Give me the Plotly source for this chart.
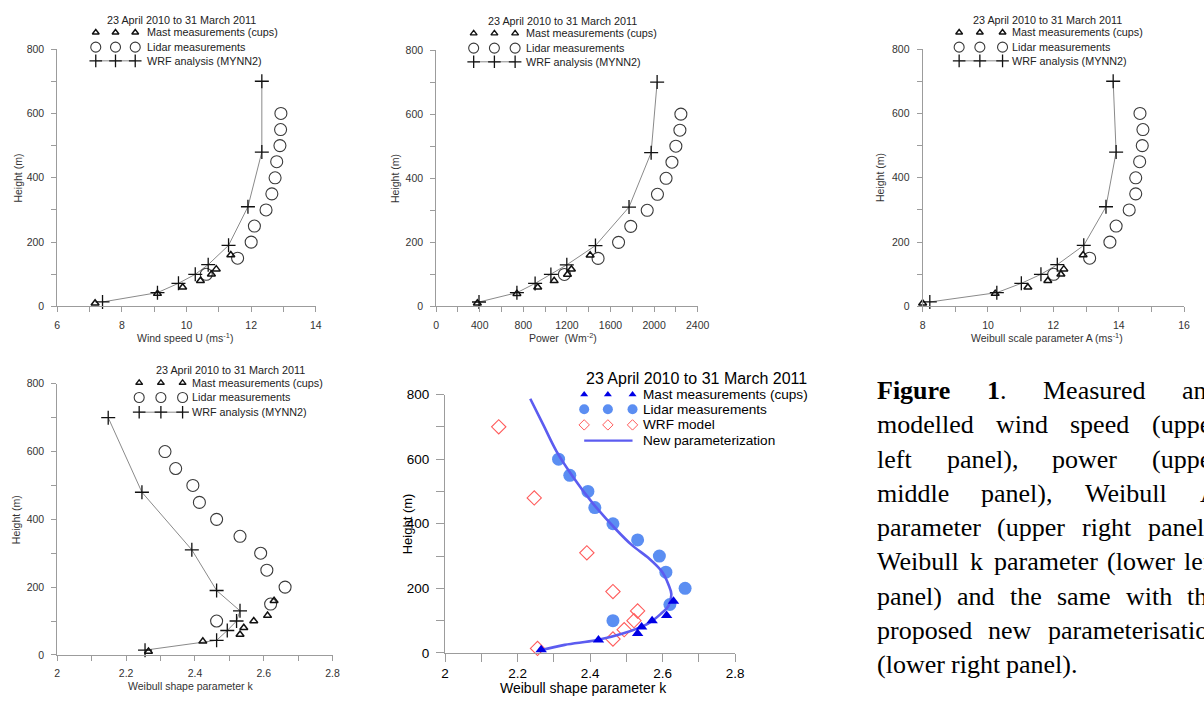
import re
import plotly.graph_objects as go

W, H = 1204, 704

# ---------------- data ----------------
h_mast = [10, 40, 60, 80, 100, 116, 160]
h_lidar = [100, 150, 200, 250, 300, 350, 400, 450, 500, 550, 600]
h_wrf = [14, 43, 72, 100, 130, 190, 310, 480, 700]

u_mast = [7.17, 9.10, 9.88, 10.43, 10.77, 10.92, 11.37]
u_lidar = [10.61, 11.58, 12.00, 12.10, 12.46, 12.64, 12.74, 12.79, 12.89, 12.91, 12.92]
u_wrf = [7.40, 9.10, 9.75, 10.27, 10.67, 11.30, 11.90, 12.33, 12.33]

p_mast = [378, 741, 932, 1083, 1205, 1241, 1413]
p_lidar = [1177, 1486, 1674, 1786, 1937, 2031, 2110, 2164, 2200, 2237, 2246]
p_wrf = [393, 741, 908, 1053, 1199, 1462, 1770, 1973, 2028]

a_mast = [8.00, 10.22, 11.22, 11.83, 12.23, 12.32, 12.91]
a_lidar = [12.01, 13.11, 13.73, 13.92, 14.32, 14.52, 14.52, 14.64, 14.72, 14.74, 14.65]
a_wrf = [8.22, 10.27, 11.02, 11.62, 12.12, 12.93, 13.61, 13.92, 13.83]

k_mast = [2.265, 2.423, 2.531, 2.542, 2.571, 2.611, 2.630]
k_lidar = [2.463, 2.620, 2.662, 2.609, 2.591, 2.531, 2.463, 2.413, 2.394, 2.344, 2.313]
k_wrf = [2.255, 2.463, 2.494, 2.521, 2.531, 2.463, 2.391, 2.246, 2.148]

k_new = [2.262, 2.330, 2.416, 2.490, 2.560, 2.595, 2.616, 2.624, 2.616, 2.598,
         2.562, 2.516, 2.471, 2.407, 2.353, 2.307, 2.271, 2.235]
h_new = [8, 25, 39, 60, 91, 121, 146, 182, 212, 252,
         293, 333, 383, 464, 545, 625, 706, 787]

title_txt = "23 April 2010 to 31 March 2011"
leg_labels = ["Mast measurements (cups)", "Lidar measurements", "WRF analysis (MYNN2)"]
leg5_labels = ["Mast measurements (cups)", "Lidar measurements", "WRF model", "New parameterization"]

caption_lines = [
    "<b>Figure</b> <b>1</b>. Measured and",
    "modelled wind speed (upper",
    "left panel), power (upper",
    "middle panel), Weibull A",
    "parameter (upper right panel),",
    "Weibull k parameter (lower left",
    "panel) and the same with the",
    "proposed new parameterisation",
    "(lower right panel).",
]

# ---------------- helpers ----------------
SANS = "Liberation Sans, Arial, sans-serif"
SERIF = "Liberation Serif, Times New Roman, serif"


def dx(a, b):
    return [a / W, b / W]


def dy(top, bottom):
    return [1 - bottom / H, 1 - top / H]


def px(x):
    return x / W


def py(y):
    return 1 - y / H


# Times / Liberation Serif advance widths (1/1000 em), used to justify the caption
TW = dict(zip("abcdefghijklmnopqrstuvwxyz",
              [444, 500, 444, 500, 444, 333, 500, 500, 278, 278, 500, 278, 778,
               500, 500, 500, 500, 333, 389, 278, 500, 500, 722, 500, 500, 444]))
TW.update({"A": 722, "W": 944, "M": 889, "F": 556, "(": 333, ")": 333, ",": 250,
           ".": 250, " ": 250, "1": 500})
TWB = dict(TW)
TWB.update({"F": 611, "i": 278, "g": 500, "u": 556, "r": 444, "e": 444, "1": 500})


def word_width(word, size):
    total, bold = 0, False
    for part in re.split(r"(</?b>)", word):
        if part == "<b>":
            bold = True
        elif part == "</b>":
            bold = False
        else:
            tab = TWB if bold else TW
            total += sum(tab.get(c, 500) for c in part)
    return total * size / 1000.0


fig = go.Figure()
annotations = []

AX_COL = "#9c9c9c"


def axis_style(rng, dtick, minor, dom, size=10.5, col="#333", standoff=5, ticklen=5):
    return dict(
        domain=dom, range=rng, dtick=dtick, tick0=rng[0], showline=True, linecolor=AX_COL,
        linewidth=1, ticks="outside", ticklen=ticklen, tickcolor=AX_COL, tickwidth=1,
        showgrid=False, zeroline=False, fixedrange=True, ticklabelstandoff=standoff,
        tickfont=dict(family=SANS, size=size, color=col),
        minor=dict(ticks="outside", ticklen=ticklen, tickcolor=AX_COL, dtick=minor, showgrid=False),
    )


upper = [
    dict(n=1, xd=(54, 316), yd=(43, 306), xr=[6, 14], dt=2, mn=1,
         m=u_mast, l=u_lidar, w=u_wrf, xt="Wind speed U (ms<sup>-1</sup>)", xtx=183,
         ht=14, keys=(93, 113, 133), tx=143, rows=(26, 41, 55), tc=180, hy=13),
    dict(n=2, xd=(438, 703), yd=(44, 306), xr=[0, 2400], dt=400, mn=200,
         m=p_mast, l=p_lidar, w=p_wrf, xt="Power\u00a0\u00a0(Wm<sup>-2</sup>)", xtx=567,
         ht=397, keys=(476, 497, 518), tx=527, rows=(27, 42, 56), tc=566, hy=14),
    dict(n=3, xd=(931, 1196), yd=(43, 306), xr=[8, 16], dt=2, mn=1,
         m=a_mast, l=a_lidar, w=a_wrf, xt="Weibull scale parameter A (ms<sup>-1</sup>)", xtx=1057,
         ht=888, keys=(968, 989, 1012), tx=1020, rows=(26, 41, 55), tc=1058, hy=13),
    dict(n=4, xd=(54, 333), yd=(385, 662), xr=[2, 2.8], dt=0.2, mn=0.1,
         m=k_mast, l=k_lidar, w=k_wrf, xt="Weibull shape parameter k", xtx=189,
         ht=13, keys=(137, 159, 181), tx=189, rows=(384, 399, 414), tc=230, hy=371),
]

layout_axes = {}
for p in upper:
    n = p["n"]
    xa, ya = f"x{n}", f"y{n}"
    layout_axes[f"xaxis{n}"] = dict(axis_style(p["xr"], p["dt"], p["mn"], dx(*p["xd"]), standoff=4), anchor=ya)
    layout_axes[f"yaxis{n}"] = dict(axis_style([0, 800], 200, 100, dy(*p["yd"])), anchor=xa)
    fig.add_trace(go.Scatter(x=p["w"], y=h_wrf, xaxis=xa, yaxis=ya, mode="lines",
                             line=dict(color="#8a8a8a", width=1), showlegend=False, hoverinfo="skip"))
    fig.add_trace(go.Scatter(x=p["l"], y=h_lidar, xaxis=xa, yaxis=ya, mode="markers", cliponaxis=False,
                             marker=dict(symbol="circle-open", size=12, color="#3a3a3a",
                                         line=dict(width=1.1, color="#3a3a3a")),
                             showlegend=False))
    fig.add_trace(go.Scatter(x=p["m"], y=h_mast, xaxis=xa, yaxis=ya, mode="markers", cliponaxis=False,
                             marker=dict(symbol="triangle-up-open", size=7, color="#111",
                                         line=dict(width=1.5, color="#111")),
                             showlegend=False))
    fig.add_trace(go.Scatter(x=p["w"], y=h_wrf, xaxis=xa, yaxis=ya, mode="markers", cliponaxis=False,
                             marker=dict(symbol="cross-thin", size=10, color="#111",
                                         line=dict(width=1.3, color="#111")),
                             showlegend=False))
    # axis titles
    ymid = (p["yd"][0] + p["yd"][1]) / 2
    annotations.append(dict(text="Height (m)", x=px(p["ht"]), y=py(ymid), xref="paper", yref="paper",
                            textangle=-90, showarrow=False, xanchor="center", yanchor="middle",
                            font=dict(family=SANS, size=10.5, color="#333")))
    annotations.append(dict(text=p["xt"], x=px(p["xtx"]), y=py(p["yd"][1] + 32), xref="paper", yref="paper",
                            showarrow=False, xanchor="center", yanchor="middle",
                            font=dict(family=SANS, size=10.5, color="#333")))
    # legend block
    annotations.append(dict(text=title_txt, x=px(p["tc"]), y=py(p["hy"]), xref="paper", yref="paper",
                            showarrow=False, xanchor="center", yanchor="middle",
                            font=dict(family=SANS, size=10.8, color="#222")))
    for lab, ry in zip(leg_labels, p["rows"]):
        annotations.append(dict(text=lab, x=px(p["tx"]), y=py(ry), xref="paper", yref="paper",
                                showarrow=False, xanchor="left", yanchor="middle",
                                font=dict(family=SANS, size=10.8, color="#222")))
    kx = list(p["keys"])
    r0, r1, r2 = p["rows"]
    fig.add_trace(go.Scatter(x=kx, y=[r0] * 3, xaxis="x9", yaxis="y9", mode="markers", cliponaxis=False,
                             marker=dict(symbol="triangle-up-open", size=6, color="#111",
                                         line=dict(width=1.4, color="#111")),
                             showlegend=False, hoverinfo="skip"))
    fig.add_trace(go.Scatter(x=kx, y=[r1] * 3, xaxis="x9", yaxis="y9", mode="markers", cliponaxis=False,
                             marker=dict(symbol="circle-open", size=10, color="#3a3a3a",
                                         line=dict(width=1.1, color="#3a3a3a")),
                             showlegend=False, hoverinfo="skip"))
    fig.add_trace(go.Scatter(x=kx, y=[r2] * 3, xaxis="x9", yaxis="y9", mode="lines+markers", cliponaxis=False,
                             line=dict(color="#8a8a8a", width=1),
                             marker=dict(symbol="cross-thin", size=9, color="#111",
                                         line=dict(width=1.3, color="#111")),
                             showlegend=False, hoverinfo="skip"))

# ---------------- panel 5 ----------------
layout_axes["xaxis5"] = dict(axis_style([2, 2.8], 0.2, 0.1, dx(447, 741), size=13.5, col="#000",
                                        standoff=0, ticklen=8), anchor="y5")
layout_axes["yaxis5"] = dict(axis_style([0, 800], 200, 100, dy(396, 660), size=13.5, col="#000",
                                        standoff=4, ticklen=8), anchor="x5")
fig.add_trace(go.Scatter(x=k_wrf, y=h_wrf, xaxis="x5", yaxis="y5", mode="markers", cliponaxis=False,
                         marker=dict(symbol="diamond-open", size=11, color="#ff5a5a",
                                     line=dict(width=1.1, color="#ff5a5a")), showlegend=False))
fig.add_trace(go.Scatter(x=k_lidar, y=h_lidar, xaxis="x5", yaxis="y5", mode="markers", cliponaxis=False,
                         marker=dict(symbol="circle", size=13, color="#5b8ef2", line=dict(width=0)),
                         showlegend=False))
fig.add_trace(go.Scatter(x=k_new, y=h_new, xaxis="x5", yaxis="y5", mode="lines",
                         line=dict(color="#5c5cf0", width=2.6, shape="spline", smoothing=1),
                         showlegend=False))
fig.add_trace(go.Scatter(x=k_mast, y=h_mast, xaxis="x5", yaxis="y5", mode="markers", cliponaxis=False,
                         marker=dict(symbol="triangle-up", size=10, color="#0000e6", line=dict(width=0)),
                         showlegend=False))

annotations.append(dict(text="Height (m)", x=px(409), y=py(528), xref="paper", yref="paper",
                        textangle=-90, showarrow=False, xanchor="center", yanchor="middle",
                        font=dict(family=SANS, size=13, color="#000")))
annotations.append(dict(text="Weibull shape parameter k", x=px(587), y=py(696), xref="paper", yref="paper",
                        showarrow=False, xanchor="center", yanchor="middle",
                        font=dict(family=SANS, size=14, color="#000")))
annotations.append(dict(text=title_txt, x=px(702), y=py(380), xref="paper", yref="paper",
                        showarrow=False, xanchor="center", yanchor="middle",
                        font=dict(family=SANS, size=16, color="#000")))
rows5 = [396, 411, 427, 443]
for lab, ry in zip(leg5_labels, rows5):
    annotations.append(dict(text=lab, x=px(646), y=py(ry), xref="paper", yref="paper",
                            showarrow=False, xanchor="left", yanchor="middle",
                            font=dict(family=SANS, size=13.6, color="#000")))
k5 = [588, 612, 637]
fig.add_trace(go.Scatter(x=k5, y=[rows5[0]] * 3, xaxis="x9", yaxis="y9", mode="markers", cliponaxis=False,
                         marker=dict(symbol="triangle-up", size=7, color="#0000e6"),
                         showlegend=False, hoverinfo="skip"))
fig.add_trace(go.Scatter(x=k5, y=[rows5[1]] * 3, xaxis="x9", yaxis="y9", mode="markers", cliponaxis=False,
                         marker=dict(symbol="circle", size=10, color="#5b8ef2"),
                         showlegend=False, hoverinfo="skip"))
fig.add_trace(go.Scatter(x=k5, y=[rows5[2]] * 3, xaxis="x9", yaxis="y9", mode="markers", cliponaxis=False,
                         marker=dict(symbol="diamond-open", size=8, color="#ff5a5a",
                                     line=dict(width=1, color="#ff5a5a")),
                         showlegend=False, hoverinfo="skip"))
fig.add_trace(go.Scatter(x=[k5[0], k5[2]], y=[rows5[3]] * 2, xaxis="x9", yaxis="y9", mode="lines",
                         line=dict(color="#5c5cf0", width=2.2), showlegend=False, hoverinfo="skip"))

# ---------------- caption (justified text column, cut by the right edge) ----------------
CAP_SIZE = 26
CAP_X0 = 883
CAP_COL = 346          # column width in px (extends past the picture edge)
CAP_Y0, CAP_DY = 392, 35
for i, line in enumerate(caption_lines):
    words = line.split(" ")
    yc = CAP_Y0 + CAP_DY * i
    widths = [word_width(w, CAP_SIZE) for w in words]
    space = TW[" "] * CAP_SIZE / 1000.0
    last = i == len(caption_lines) - 1
    if last or len(words) == 1:
        gap = space
    else:
        gap = (CAP_COL - sum(widths)) / (len(words) - 1)
    xw = CAP_X0
    for w, wd in zip(words, widths):
        annotations.append(dict(text=w, x=px(xw), y=py(yc), xref="paper", yref="paper",
                                showarrow=False, xanchor="left", yanchor="middle",
                                font=dict(family=SERIF, size=CAP_SIZE, color="#000")))
        xw += wd + gap

# overlay pixel-space axes for legend keys
layout_axes["xaxis9"] = dict(domain=[0, 1], range=[0, W], visible=False, fixedrange=True, anchor="y9")
layout_axes["yaxis9"] = dict(domain=[0, 1], range=[H, 0], visible=False, fixedrange=True, anchor="x9")

fig.update_layout(
    width=W, height=H, margin=dict(l=0, r=0, t=0, b=0),
    paper_bgcolor="white", plot_bgcolor="rgba(0,0,0,0)",
    showlegend=False, annotations=annotations, **layout_axes,
)

fig.write_html("out.html", config={"displayModeBar": False},
               post_script="document.body.style.margin='0px';")
